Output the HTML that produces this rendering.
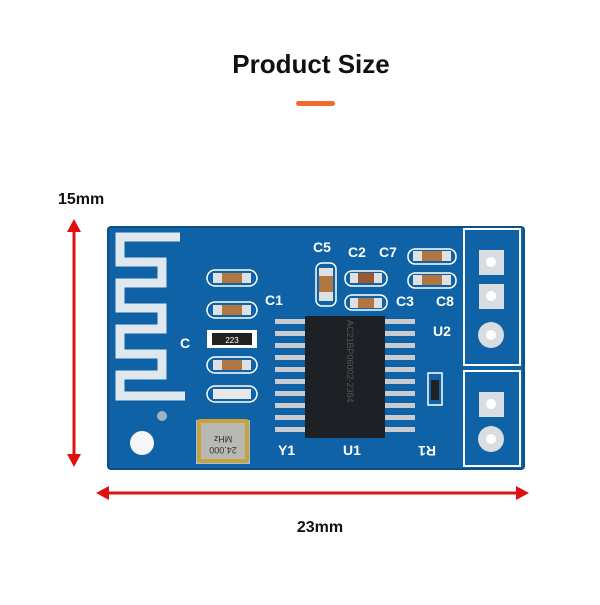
<!DOCTYPE html>
<html><head><style>
body{margin:0;background:#fff;width:600px;height:600px;overflow:hidden;font-family:"Liberation Sans",sans-serif}
</style></head><body>
<svg width="600" height="600" viewBox="0 0 600 600" xmlns="http://www.w3.org/2000/svg" font-family="Liberation Sans, sans-serif">
<text x="311" y="73" text-anchor="middle" font-size="26" font-weight="bold" fill="#111">Product Size</text>
<rect x="296" y="101" width="39" height="5" rx="2.5" fill="#f26a2a"/>
<text x="58" y="204" font-size="16" font-weight="bold" fill="#111">15mm</text>
<text x="320" y="532" text-anchor="middle" font-size="16" font-weight="bold" fill="#111">23mm</text>
<!-- arrows -->
<g stroke="#e01010" stroke-width="3" fill="#e01010">
<line x1="74" y1="228" x2="74" y2="458"/>
<line x1="104" y1="493" x2="521" y2="493"/>
</g>
<g fill="#e01010">
<polygon points="74,219 67,232 81,232"/>
<polygon points="74,467 67,454 81,454"/>
<polygon points="96,493 109,486 109,500"/>
<polygon points="529,493 516,486 516,500"/>
</g>
<!-- board -->
<rect x="108" y="227" width="416" height="242" rx="3" fill="#0f62a6"/>
<rect x="108" y="227" width="416" height="242" rx="3" fill="none" stroke="#0a4f8a" stroke-width="2"/>
<!-- antenna -->
<path d="M180 237 H120 V262 H162 V283 H120 V308 H162 V329 H120 V354 H162 V375 H120 V396 H185" fill="none" stroke="#dfe7ef" stroke-width="9"/>
<!-- holes -->
<circle cx="142" cy="443" r="12" fill="#f4f6f8"/>
<circle cx="162" cy="416" r="5" fill="#9fb3c3"/>
<!-- chip pins -->
<g fill="#c8ccd0">
<rect x="275" y="319" width="32" height="5"/><rect x="275" y="331" width="32" height="5"/><rect x="275" y="343" width="32" height="5"/><rect x="275" y="355" width="32" height="5"/><rect x="275" y="367" width="32" height="5"/><rect x="275" y="379" width="32" height="5"/><rect x="275" y="391" width="32" height="5"/><rect x="275" y="403" width="32" height="5"/><rect x="275" y="415" width="32" height="5"/><rect x="275" y="427" width="32" height="5"/>
<rect x="383" y="319" width="32" height="5"/><rect x="383" y="331" width="32" height="5"/><rect x="383" y="343" width="32" height="5"/><rect x="383" y="355" width="32" height="5"/><rect x="383" y="367" width="32" height="5"/><rect x="383" y="379" width="32" height="5"/><rect x="383" y="391" width="32" height="5"/><rect x="383" y="403" width="32" height="5"/><rect x="383" y="415" width="32" height="5"/><rect x="383" y="427" width="32" height="5"/>
</g>
<rect x="305" y="316" width="80" height="122" fill="#1d2024"/>
<text transform="translate(347,320) rotate(90)" font-size="9" fill="#555">AC21BP06002-2384</text>
<!-- caps -->
<g>
<rect x="207" y="270" width="50" height="16" rx="8" fill="none" stroke="#fff" stroke-width="1.5"/>
<rect x="213" y="273" width="38" height="10" fill="#e0e0e0"/><rect x="222" y="273" width="20" height="10" fill="#b07840"/>
<rect x="207" y="302" width="50" height="16" rx="8" fill="none" stroke="#fff" stroke-width="1.5"/>
<rect x="213" y="305" width="38" height="10" fill="#e0e0e0"/><rect x="222" y="305" width="20" height="10" fill="#b07840"/>
<rect x="207" y="330" width="50" height="18" fill="#fff"/>
<rect x="212" y="333" width="40" height="12" fill="#222"/><text x="232" y="343" font-size="8" fill="#fff" text-anchor="middle">223</text>
<rect x="207" y="357" width="50" height="16" rx="8" fill="none" stroke="#fff" stroke-width="1.5"/>
<rect x="213" y="360" width="38" height="10" fill="#e0e0e0"/><rect x="222" y="360" width="20" height="10" fill="#b07840"/>
<rect x="207" y="386" width="50" height="16" rx="8" fill="none" stroke="#fff" stroke-width="1.5"/>
<rect x="213" y="389" width="38" height="10" fill="#e8e8e8"/>
<rect x="316" y="263" width="20" height="43" rx="6" fill="none" stroke="#fff" stroke-width="1.5"/>
<rect x="319" y="268" width="14" height="33" fill="#e0e0e0"/><rect x="319" y="276" width="14" height="16" fill="#b07840"/>
<rect x="345" y="271" width="42" height="15" rx="7" fill="none" stroke="#fff" stroke-width="1.5"/>
<rect x="350" y="273" width="32" height="10" fill="#e0e0e0"/><rect x="358" y="273" width="16" height="10" fill="#9a5a30"/>
<rect x="345" y="295" width="42" height="15" rx="7" fill="none" stroke="#fff" stroke-width="1.5"/>
<rect x="350" y="298" width="32" height="10" fill="#e0e0e0"/><rect x="358" y="298" width="16" height="10" fill="#b07840"/>
<rect x="408" y="249" width="48" height="15" rx="7" fill="none" stroke="#fff" stroke-width="1.5"/>
<rect x="413" y="251" width="38" height="10" fill="#e0e0e0"/><rect x="422" y="251" width="20" height="10" fill="#b07840"/>
<rect x="408" y="273" width="48" height="15" rx="7" fill="none" stroke="#fff" stroke-width="1.5"/>
<rect x="413" y="275" width="38" height="10" fill="#e0e0e0"/><rect x="422" y="275" width="20" height="10" fill="#b07840"/>
</g>
<!-- crystal -->
<rect x="196" y="420" width="54" height="44" fill="#fff" opacity=".6"/>
<rect x="197" y="419" width="52" height="44" rx="3" fill="#c9a23a"/>
<rect x="201" y="423" width="44" height="36" fill="#b8b8b4"/>
<text transform="translate(223,436) rotate(180)" font-size="9" fill="#333" text-anchor="middle">MHz</text>
<text transform="translate(223,447) rotate(180)" font-size="9" fill="#333" text-anchor="middle">24.000</text>
<!-- headers -->
<rect x="464" y="229" width="56" height="136" fill="none" stroke="#fff" stroke-width="2"/>
<rect x="464" y="371" width="56" height="95" fill="none" stroke="#fff" stroke-width="2"/>
<rect x="479" y="250" width="25" height="25" fill="#d8dde2"/><circle cx="491" cy="262" r="5" fill="#fff"/>
<rect x="479" y="284" width="25" height="25" fill="#d8dde2"/><circle cx="491" cy="296" r="5" fill="#fff"/>
<circle cx="491" cy="335" r="13" fill="#d8dde2"/><circle cx="491" cy="335" r="5" fill="#fff"/>
<rect x="479" y="392" width="25" height="25" fill="#d8dde2"/><circle cx="491" cy="404" r="5" fill="#fff"/>
<circle cx="491" cy="439" r="13" fill="#d8dde2"/><circle cx="491" cy="439" r="5" fill="#fff"/>
<!-- R1 -->
<rect x="428" y="373" width="14" height="32" fill="none" stroke="#fff" stroke-width="1.5"/>
<rect x="431" y="380" width="8" height="20" fill="#222"/>
<!-- labels -->
<g fill="#fff" font-size="14" font-weight="bold">
<text x="265" y="305">C1</text><text x="313" y="252">C5</text><text x="348" y="257">C2</text><text x="379" y="257">C7</text>
<text x="396" y="306">C3</text><text x="436" y="306">C8</text><text x="433" y="336">U2</text>
<text x="180" y="348">C</text><text x="278" y="455">Y1</text><text x="343" y="455">U1</text>
<text transform="translate(436,446) rotate(180)">R1</text>
</g>
</svg>
</body></html>
